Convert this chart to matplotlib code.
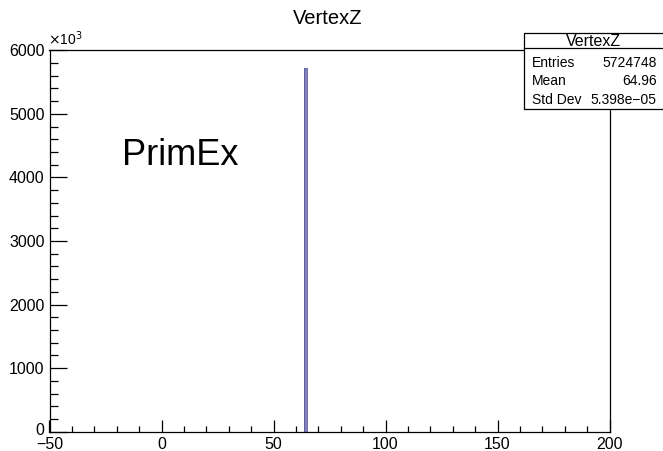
import matplotlib
matplotlib.use("Agg")
import matplotlib.pyplot as plt
from matplotlib.ticker import MultipleLocator
from matplotlib.patches import Rectangle
from matplotlib.lines import Line2D
from matplotlib.transforms import ScaledTranslation

# ---- data ----
bin_edges = [63.75, 65.0]
counts = [5724748]
hist_name = "VertexZ"
stat_labels = ["Entries", "Mean", "Std Dev"]
stat_values = ["5724748", "64.96", "5.398e\u221205"]
x_ticks = [-50, 0, 50, 100, 150, 200]
y_ticks = [0, 1000, 2000, 3000, 4000, 5000, 6000]
annotation = "PrimEx"

plt.rcParams['font.family'] = ['Liberation Sans', 'DejaVu Sans']
plt.rcParams['axes.unicode_minus'] = True

W, H = 663, 451
fig = plt.figure(figsize=(W / 100, H / 100), dpi=100)
L, R, B, T = 49.5, 609.5, 431.7, 50.3
ax = fig.add_axes([L / W, 1 - B / H, (R - L) / W, (B - T) / H])

scaled = [c / 1000 for c in counts]
ax.stairs(scaled, bin_edges, fill=True, facecolor='#8282b8', edgecolor='none')
ax.stairs(scaled, bin_edges, fill=False, edgecolor='#5a5aa6', linewidth=0.6)

ax.set_xlim(-50, 200)
ax.set_ylim(0, 6000)
ax.set_xticks(x_ticks)
ax.set_yticks(y_ticks)
ax.set_xticklabels([f"{v:g}".replace("-", "\u2212") for v in x_ticks])
ax.set_yticklabels([f"{v:g}" for v in y_ticks])
ax.xaxis.set_minor_locator(MultipleLocator(10))
ax.yaxis.set_minor_locator(MultipleLocator(200))

ax.tick_params(axis='both', which='both', direction='in', top=False, right=False,
               colors='black', width=0.9, labelsize=11.5)
ax.tick_params(axis='x', which='major', length=8.6, pad=3.5)
ax.tick_params(axis='x', which='minor', length=4.3)
ax.tick_params(axis='y', which='major', length=12.2, pad=3.5)
ax.tick_params(axis='y', which='minor', length=6.1)
for s in ax.spines.values():
    s.set_linewidth(0.9)
    s.set_color('black')

# nudge the y "0" label up slightly, as ROOT does
fig.canvas.draw()
ylab0 = ax.get_yticklabels()[0]
ylab0.set_transform(ylab0.get_transform() + ScaledTranslation(0, 3 / 100, fig.dpi_scale_trans))

# x10^3 multiplier
fig.text(48.5 / W, 1 - 48.0 / H, r'$\times$10$^{3}$', fontsize=10, ha='left', va='bottom')

# title
fig.text(328 / W, 1 - 18 / H, hist_name, fontsize=14.5, ha='center', va='center')

# big annotation
ax.text(180 / W, 1 - 155.5 / H, annotation, transform=fig.transFigure,
        fontsize=26, ha='center', va='center')

# stats box
bx0, bx1, by0, by1 = 524.3, 680, 33.3, 109.3
fig.patches.append(Rectangle((bx0 / W, 1 - by1 / H), (bx1 - bx0) / W, (by1 - by0) / H,
                             transform=fig.transFigure, facecolor='white',
                             edgecolor='black', linewidth=0.9, zorder=5))
fig.lines.append(Line2D([bx0 / W, 1.0], [1 - 48.3 / H] * 2, transform=fig.transFigure,
                        color='black', linewidth=0.9, zorder=6))
fig.text(((bx0 + 662) / 2) / W, 1 - 41 / H, hist_name, fontsize=11.5,
         ha='center', va='center', zorder=7)
row_y = [67.0, 85.3, 103.6]
for lab, val, yy in zip(stat_labels, stat_values, row_y):
    fig.text(531.7 / W, 1 - yy / H, lab, fontsize=10, ha='left', va='baseline', zorder=7)
    fig.text(656.7 / W, 1 - yy / H, val, fontsize=10, ha='right', va='baseline', zorder=7)

fig.savefig("out.png", dpi=100)
